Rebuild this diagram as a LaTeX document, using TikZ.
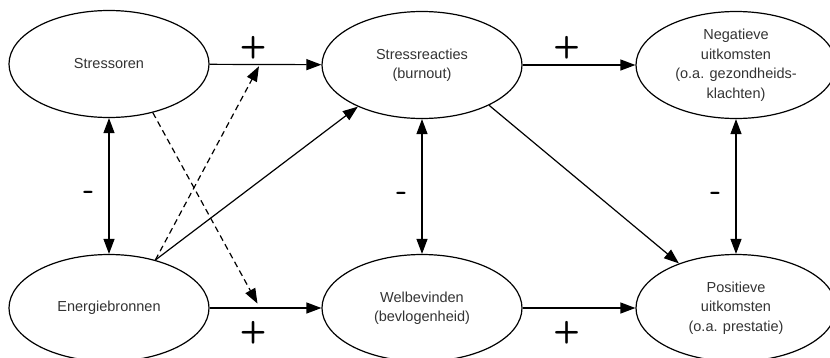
\documentclass[tikz,border=0pt]{standalone}
\usepackage{fontspec}
\setmainfont{Liberation Sans}
\usetikzlibrary{shapes.geometric,arrows.meta}

\begin{document}
\begin{tikzpicture}[x=1pt,y=-1pt,line width=1.2pt,>={Triangle[length=15pt,width=11pt]},
  blobstyle/.style={ellipse,draw,minimum width=200pt,minimum height=107pt,inner sep=0pt,
    align=center,text=black!80,font=\fontsize{14.5}{19.5}\selectfont},
  signstyle/.style={inner sep=0pt,font=\sffamily\bfseries\fontsize{31}{31}\selectfont}]
  \useasboundingbox (0,0) rectangle (830,357);

  \node [blobstyle] (sto) at (109,64) {Stressoren};
  \node [blobstyle] (rea) at (422,65) {Stressreacties\\(burnout)};
  \node [blobstyle] (neg) at (736,65) {Negatieve\\uitkomsten\\(o.a. gezondheids-\\klachten)};
  \node [blobstyle] (ene) at (109,308) {Energiebronnen};
  \node [blobstyle] (wel) at (422,308) {Welbevinden\\(bevlogenheid)};
  \node [blobstyle] (pos) at (736,308) {Positieve\\uitkomsten\\(o.a. prestatie)};

  \draw [->] (sto) -- node [signstyle,pos=.39,above=5pt] {+} coordinate [pos=.45] (modtop) (rea);
  \draw [->] (rea) -- node [signstyle,pos=.39,above=5pt] {+} (neg);
  \draw [->] (ene) -- node [signstyle,pos=.39,below=13pt] {+} coordinate [pos=.45] (modbot) (wel);
  \draw [->] (wel) -- node [signstyle,pos=.39,below=13pt] {+} (pos);

  \foreach \a/\b in {sto/ene,rea/wel,neg/pos}
    \draw [<->] (\a) -- node [signstyle,pos=.57,left=14pt] {-} (\b);

  \draw [->] (ene.46) -- (rea.213);
  \draw [->] (rea.329) -- (pos.142);
  \draw [->,dash pattern=on 6pt off 4pt,shorten >=2pt] (ene.46) -- (modtop);
  \draw [->,dash pattern=on 6pt off 4pt,shorten >=5pt] (sto.312) -- (modbot);
\end{tikzpicture}
\end{document}
